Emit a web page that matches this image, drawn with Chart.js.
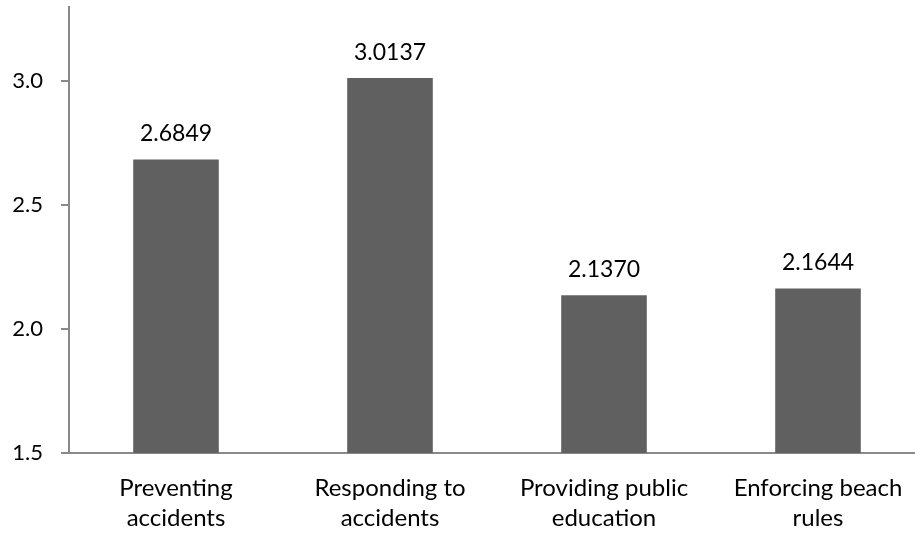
<!DOCTYPE html>
<html>
<head>
<meta charset="utf-8">
<script src="https://cdn.jsdelivr.net/npm/chart.js@4"></script>
<style>
  html, body { margin: 0; padding: 0; background: #fff; overflow: hidden; }
  #wrap { width: 925px; height: 533px; }
</style>
</head>
<body>
<div id="wrap"><canvas id="chart"></canvas></div>
<script>
// Mean rating per lifeguard task
const categories = [
    ['Preventing', 'accidents'],
    ['Responding to', 'accidents'],
    ['Providing public', 'education'],
    ['Enforcing beach', 'rules']
];
const scores = [2.6849, 3.0137, 2.1370, 2.1644];
const yTicks = [1.5, 2.0, 2.5, 3.0];

const FONT = 'Lato, "Open Sans", sans-serif';
const AXIS = '#898989';

// Write the value above each bar
const valueLabels = {
    id: 'valueLabels',
    afterDatasetsDraw(chart) {
        const ctx = chart.ctx;
        const meta = chart.getDatasetMeta(0);
        ctx.save();
        ctx.font = '23px ' + FONT;
        ctx.fillStyle = '#000';
        ctx.textAlign = 'center';
        ctx.textBaseline = 'alphabetic';
        meta.data.forEach((bar, i) => {
            ctx.fillText(scores[i].toFixed(4), bar.x, bar.y - 18);
        });
        ctx.restore();
    }
};

new Chart(document.getElementById('chart'), {
    type: 'bar',
    data: {
        labels: categories,
        datasets: [{
            data: scores,
            backgroundColor: '#606060',
            borderWidth: 0,
            barPercentage: 0.4,
            categoryPercentage: 1.0
        }]
    },
    options: {
        responsive: true,
        maintainAspectRatio: false,
        animation: false,
        layout: { padding: { top: 7, right: 0, left: 0, bottom: 0 } },
        plugins: {
            legend: { display: false },
            tooltip: { enabled: false }
        },
        scales: {
            x: {
                grid: { drawOnChartArea: false, drawTicks: false },
                border: { color: AXIS, width: 2 },
                ticks: {
                    color: '#000',
                    font: { family: FONT, size: 24, lineHeight: 1.25 },
                    padding: 20,
                    maxRotation: 0,
                    autoSkip: false
                },
                afterFit(scale) {
                    scale.height = 80;
                    scale.paddingLeft = 0;
                    scale.paddingRight = 0;
                }
            },
            y: {
                min: 1.5,
                max: 3.3,
                grid: { drawOnChartArea: false, drawTicks: true, tickLength: 8, color: AXIS, lineWidth: 2 },
                border: { color: AXIS, width: 2 },
                ticks: {
                    color: '#000',
                    font: { family: FONT, size: 22 },
                    padding: 18,
                    callback: v => v.toFixed(1)
                },
                afterBuildTicks(scale) {
                    scale.ticks = yTicks.map(v => ({ value: v }));
                },
                afterFit(scale) {
                    scale.width = 69;
                    scale.paddingTop = 0;
                    scale.paddingBottom = 0;
                }
            }
        }
    },
    plugins: [valueLabels]
});
</script>
</body>
</html>
